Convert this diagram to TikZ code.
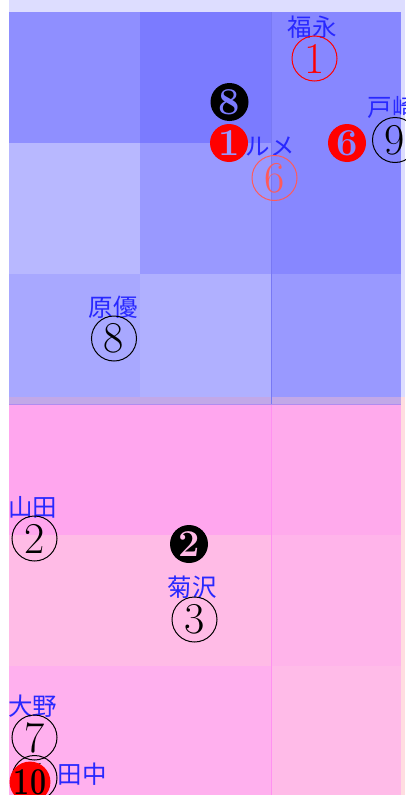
\documentclass[tikz,border=0pt]{standalone}
\usepackage{fontspec}
\newfontfamily\cjk{Noto Sans CJK JP}
\definecolor{bgblue}{HTML}{DDDDFF}
\definecolor{bgpink}{HTML}{FFDDE0}
\definecolor{ba}{HTML}{8F8FFF}
\definecolor{bb}{HTML}{7B7BFF}
\definecolor{bc}{HTML}{8787FF}
\definecolor{bd}{HTML}{B8B8FF}
\definecolor{be}{HTML}{9999FF}
\definecolor{bf}{HTML}{A8A8FF}
\definecolor{bg}{HTML}{B0B0FF}
\definecolor{band}{HTML}{C2A8E8}
\definecolor{pa}{HTML}{FFA6EE}
\definecolor{pb}{HTML}{FFAAEC}
\definecolor{pc}{HTML}{FFBBE6}
\definecolor{pd}{HTML}{FFB4EA}
\definecolor{pe}{HTML}{FFB0EE}
\definecolor{pf}{HTML}{FFBBE8}
\definecolor{lineblue}{HTML}{7878F4}
\definecolor{linepink}{HTML}{FF90F0}
\definecolor{linemid}{HTML}{B08CF0}
\definecolor{lblblue}{HTML}{2828FF}
\definecolor{salmon}{HTML}{FF5A5A}
\begin{document}
\begin{tikzpicture}[x=1pt,y=-1pt,
  ring/.style={circle, draw, line width=1pt, minimum size=45pt, inner sep=0pt,
    font=\fontsize{44}{44}\selectfont},
  disc/.style={circle, minimum size=38pt, inner sep=0pt,
    font=\fontsize{38}{38}\selectfont\bfseries},
  lbl/.style={text=lblblue, inner sep=0pt, font=\cjk\fontsize{24.5}{24.5}\selectfont}]
\useasboundingbox (0,0) rectangle (405,795);
\fill[white] (0,0) rectangle (405,795);
% group backgrounds
\fill[bgblue] (9,0) rectangle (405,397);
\fill[bgpink] (9,397) rectangle (405,795);
% blue cells
\fill[ba] (9,12) rectangle (140,143);
\fill[bb] (140,12) rectangle (271,143);
\fill[bc] (271,12) rectangle (401,143);
\fill[bd] (9,143) rectangle (140,274);
\fill[be] (140,143) rectangle (271,274);
\fill[bc] (271,143) rectangle (401,274);
\fill[bf] (9,274) rectangle (140,397);
\fill[bg] (140,274) rectangle (271,397);
\fill[be] (271,274) rectangle (401,397);
\fill[band] (9,397) rectangle (401,404);
% pink cells
\fill[pa] (9,404) rectangle (271,535);
\fill[pb] (271,404) rectangle (401,535);
\fill[pc] (9,535) rectangle (271,666);
\fill[pd] (271,535) rectangle (401,666);
\fill[pe] (9,666) rectangle (271,795);
\fill[pf] (271,666) rectangle (401,795);
% lines
\coordinate (vt) at (271,12);
\coordinate (vm) at (271,404);
\coordinate (vb) at (271,795);
\coordinate (hl) at (9,404);
\coordinate (hr) at (401,404);
\draw[lineblue, line width=0.8pt] (vt) -- (vm);
\draw[linepink, line width=0.8pt] (vm) -- (vb);
\draw[linemid, line width=0.8pt] (hl) -- (hr);
% markers
\node[lbl] (fukunaga) at (312,27) {福永};
\node[ring, draw=red, text=red] (n1) at (314.5,58.5) {1};
\node[disc, fill=black, text=bb] (d8) at (229.5,102) {8};
\node[disc, fill=red, text=be] (d1) at (229,143) {1};
\node[lbl] (rume) at (270,147) {ルメ};
\node[ring, draw=salmon, text=salmon] (n6) at (274.5,178) {6};
\node[disc, fill=red, text=bc] (d6) at (347,143) {6};
\node[lbl] (tozaki) at (392,107) {戸崎};
\node[ring] (n9) at (395,140) {9};
\node[lbl] (hara) at (113,307) {原優};
\node[ring] (n8) at (114,338.5) {8};
\node[lbl] (yamada) at (33,507) {山田};
\node[ring] (n2) at (34.5,538.5) {2};
\node[disc, fill=black, text=pc] (d2) at (189,544) {2};
\node[lbl] (kiku) at (192,587) {菊沢};
\node[ring] (n3) at (194.5,619.5) {3};
\node[lbl] (ono) at (33,706) {大野};
\node[ring] (n7) at (34.5,737.5) {7};
\node[ring] (n5) at (34.5,778) {5};
\node[lbl] (tanaka) at (82,774) {田中};
\node[disc, fill=red, text=black, minimum size=39pt] (d10) at (30,782) {\scalebox{0.75}[1]{10}};
\end{tikzpicture}
\end{document}
